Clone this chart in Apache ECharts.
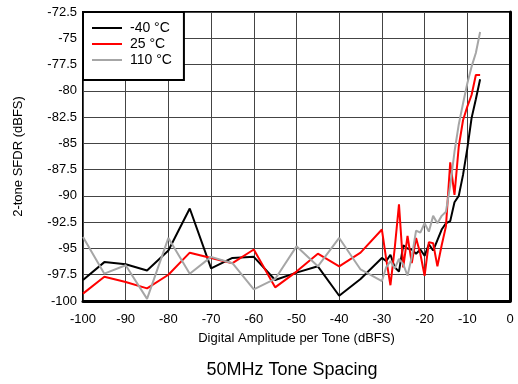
<!DOCTYPE html>
<html>
<head>
<meta charset="UTF-8">
<title>2-tone SFDR</title>
<script src="https://cdn.jsdelivr.net/npm/echarts@6.0.0/dist/echarts.min.js"></script>
<style>
  html, body { margin: 0; padding: 0; background: #fff; }
  #chart { width: 518px; height: 384px; }
</style>
</head>
<body>
<div id="chart"></div>
<script>
// amplitude per tone (dBFS)
const amplitude = [-100, -95, -90, -85, -80, -75, -70, -65, -60, -55, -50, -45, -40, -35,
  -30, -29, -28, -27, -26, -25, -24, -23, -22, -21, -20, -19, -18, -17, -16, -15,
  -14, -13, -12, -11, -10, -9, -8, -7];

// SFDR (dBFS) per temperature
const sfdrM40 = [-98.0, -96.3, -96.5, -97.1, -95.2, -91.2, -96.9, -95.9, -95.8, -98.0, -97.3, -96.7, -99.5, -97.9,
  -95.9, -96.2, -95.6, -96.8, -97.2, -94.7, -95.0, -95.1, -95.5, -95.1, -95.7, -94.6, -95.2, -94.2, -93.2, -92.6,
  -92.4, -90.6, -90.0, -88.0, -85.5, -82.6, -80.8, -78.9];
const sfdr25 = [-99.3, -97.7, -98.2, -98.8, -97.5, -95.4, -95.9, -96.4, -95.1, -98.7, -97.2, -95.5, -96.7, -95.4,
  -93.2, -96.0, -98.5, -95.0, -90.8, -96.8, -93.8, -96.4, -94.0, -95.5, -97.6, -94.4, -94.5, -96.7, -94.7, -92.9,
  -86.8, -89.9, -85.3, -82.8, -81.5, -80.4, -78.5, -78.5];
const sfdr110 = [-93.9, -97.4, -96.6, -99.8, -94.0, -97.4, -95.8, -96.4, -98.9, -97.9, -94.8, -96.7, -94.0, -97.0,
  -98.1, -96.8, -96.2, -96.9, -96.0, -96.5, -97.6, -95.8, -93.3, -93.5, -92.6, -93.4, -91.9, -92.6, -91.9, -91.5,
  -89.0, -85.8, -83.2, -81.2, -79.3, -77.7, -76.4, -74.4];

const seriesNames = ['-40 °C', '25 °C', '110 °C'];
const seriesColors = ['#000000', '#ff0000', '#a6a6a6'];
const seriesValues = [sfdrM40, sfdr25, sfdr110];

const font = 'Liberation Sans, Arial, sans-serif';
const chart = echarts.init(document.getElementById('chart'));

chart.setOption({
  animation: false,
  title: {
    text: '50MHz Tone Spacing',
    left: 287,
    textAlign: 'center',
    top: 356,
    textStyle: { fontFamily: font, fontSize: 18, fontWeight: 'normal', color: '#000' }
  },
  legend: {
    orient: 'vertical',
    left: 83,
    top: 12,
    padding: [8, 12, 12, 9],
    icon: 'rect',
    itemWidth: 30,
    itemHeight: 2,
    itemGap: 0,
    backgroundColor: '#fff',
    borderColor: '#000',
    borderWidth: 2,
    borderRadius: 0,
    textStyle: { fontFamily: font, fontSize: 14, lineHeight: 16, color: '#000', padding: [0, 0, 0, 3] },
    data: seriesNames
  },
  grid: {
    left: 83, right: 8, top: 12, bottom: 83,
    show: true, borderColor: '#000', borderWidth: 2
  },
  xAxis: {
    type: 'value',
    min: -100, max: 0, interval: 10,
    name: 'Digital Amplitude per Tone (dBFS)',
    nameLocation: 'middle',
    nameGap: 31,
    nameTextStyle: { fontFamily: font, fontSize: 13, color: '#000' },
    axisLine: { lineStyle: { color: '#000', width: 3 } },
    axisTick: { show: false },
    axisLabel: { fontFamily: font, fontSize: 13, color: '#000', margin: 12 },
    splitLine: { lineStyle: { color: '#444', width: 1 } }
  },
  yAxis: {
    type: 'value',
    min: -100, max: -72.5, interval: 2.5,
    name: '2-tone SFDR (dBFS)',
    nameLocation: 'middle',
    nameGap: 58,
    nameTextStyle: { fontFamily: font, fontSize: 13, color: '#000' },
    axisLine: { lineStyle: { color: '#000', width: 3 } },
    axisTick: { show: false },
    axisLabel: { fontFamily: font, fontSize: 13, color: '#000', margin: 6 },
    splitLine: { lineStyle: { color: '#444', width: 1 } }
  },
  series: seriesNames.map((name, i) => ({
    name: name,
    type: 'line',
    symbol: 'none',
    color: seriesColors[i],
    lineStyle: { width: 2, color: seriesColors[i] },
    data: amplitude.map((x, j) => [x, seriesValues[i][j]])
  }))
});
</script>
</body>
</html>
